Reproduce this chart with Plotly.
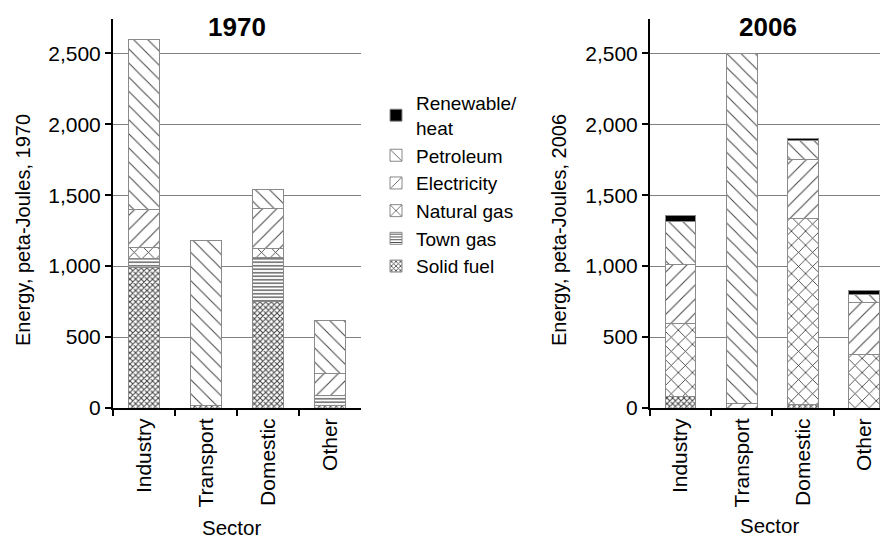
import plotly.graph_objects as go

W, H = 880, 541

categories = ["Industry", "Transport", "Domestic", "Other"]
fuels = ["Solid fuel", "Town gas", "Natural gas", "Electricity", "Petroleum", "Renewable/<br>heat"]

# 1970 values (peta-Joules)
solid_1970 = [990, 15, 748, 15]
town_1970 = [67, 0, 311, 75]
natgas_1970 = [77, 0, 64, 0]
elec_1970 = [266, 0, 282, 150]
petrol_1970 = [1200, 1165, 137, 374]
renew_1970 = [0, 0, 0, 0]

# 2006 values (peta-Joules)
solid_2006 = [78, 0, 24, 0]
town_2006 = [0, 0, 0, 0]
natgas_2006 = [517, 0, 1312, 379]
elec_2006 = [416, 30, 416, 362]
petrol_2006 = [304, 2470, 136, 61]
renew_2006 = [42, 0, 14, 23]

yticks = [0, 500, 1000, 1500, 2000, 2500]

data_1970 = [solid_1970, town_1970, natgas_1970, elec_1970, petrol_1970, renew_1970]
data_2006 = [solid_2006, town_2006, natgas_2006, elec_2006, petrol_2006, renew_2006]

FG = "#444444"
styles = [
    dict(color="white", pattern=dict(shape="x", size=4, solidity=0.45, fgcolor=FG, bgcolor="white", fillmode="replace")),
    dict(color="white", pattern=dict(shape="-", size=3.5, solidity=0.35, fgcolor=FG, bgcolor="white", fillmode="replace")),
    dict(color="white", pattern=dict(shape="x", size=10, solidity=0.16, fgcolor="#333333", bgcolor="white", fillmode="replace")),
    dict(color="white", pattern=dict(shape="/", size=10, solidity=0.1, fgcolor=FG, bgcolor="white", fillmode="replace")),
    dict(color="white", pattern=dict(shape="\\", size=10, solidity=0.1, fgcolor=FG, bgcolor="white", fillmode="replace")),
    dict(color="black"),
]

def clean(vals):
    return [v if v else None for v in vals]

fig = go.Figure()
for i, name in enumerate(fuels):
    for j, (data, xa, ya) in enumerate([(data_1970, "x", "y"), (data_2006, "x2", "y2")]):
        st = styles[i]
        marker = dict(color=st["color"], line=dict(color="#8a8a8a", width=1))
        if "pattern" in st:
            marker["pattern"] = st["pattern"]
        fig.add_trace(go.Bar(
            x=categories, y=clean(data[i]), name=name, legendgroup=name,
            showlegend=(j == 0), marker=marker, width=0.5,
            xaxis=xa, yaxis=ya,
        ))

FONT = "Liberation Sans, Arial, sans-serif"
ydom = [1 - 408 / H, 1 - 19 / H]

yaxis_common = dict(
    range=[0, 2742], tickvals=yticks, tickformat=",d",
    showgrid=True, gridcolor="#808080", gridwidth=1,
    showline=True, linecolor="black", linewidth=2,
    ticks="outside", ticklen=6, tickwidth=2, tickcolor="black",
    tickfont=dict(size=21, color="black", family=FONT),
    zeroline=False, domain=ydom, automargin=False,
)
xaxis_common = dict(
    type="category", tickson="boundaries",
    showline=True, linecolor="black", linewidth=2,
    ticks="outside", ticklen=6, tickwidth=2, tickcolor="black",
    tickangle=-90, tickfont=dict(size=21, color="black", family=FONT),
    showgrid=False, zeroline=False, automargin=False,
)

fig.update_layout(
    width=W, height=H, autosize=False,
    margin=dict(l=0, r=0, t=0, b=0, pad=0, autoexpand=False),
    paper_bgcolor="white", plot_bgcolor="white",
    barmode="stack", bargap=0.5,
    font=dict(family=FONT, color="black"),
    xaxis=dict(xaxis_common, domain=[113 / W, 361 / W], range=[-0.5, 3.499], anchor="y"),
    yaxis=dict(yaxis_common, anchor="x"),
    xaxis2=dict(xaxis_common, domain=[650 / W, 1.0], range=[-0.5, 3.26], anchor="y2"),
    yaxis2=dict(yaxis_common, anchor="x2"),
    legend=dict(
        x=376 / W, y=1 - 84 / H, xanchor="left", yanchor="top",
        traceorder="reversed", tracegroupgap=0,
        font=dict(size=19, color="black", family=FONT),
        bgcolor="rgba(0,0,0,0)",
    ),
    showlegend=True,
)

def ann(text, px, py, size, angle=0):
    fig.add_annotation(
        text=text, x=px / W, y=1 - py / H, xref="paper", yref="paper",
        xanchor="center", yanchor="middle", showarrow=False, textangle=angle,
        font=dict(size=size, color="black", family=FONT),
    )

ann("<b>1970</b>", 237, 27, 26)
ann("<b>2006</b>", 768, 27, 26)
ann("Energy, peta-Joules, 1970", 23, 230, 20, -90)
ann("Energy, peta-Joules, 2006", 559, 230, 20, -90)
ann("Sector", 231, 527, 20.5)
ann("Sector", 769, 525, 20.5)

fig.write_html("out.html", config={"displayModeBar": False},
               post_script="document.body.style.margin='0';")
